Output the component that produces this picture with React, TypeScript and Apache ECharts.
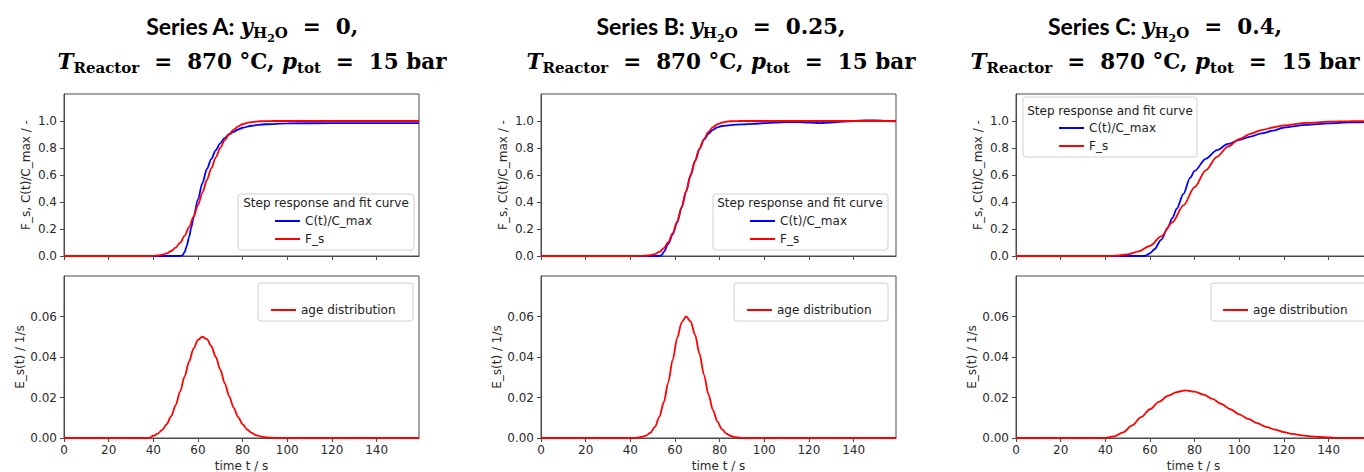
import React, { useEffect, useRef } from "react";
import * as echarts from "echarts";

// ---------- data ----------
const xTicks = [0, 20, 40, 60, 80, 100, 120, 140];
const yTicksTop = [0, 0.2, 0.4, 0.6, 0.8, 1.0];
const yTicksBottom = [0, 0.02, 0.04, 0.06];

// Series A
const tFitA = [0, 38, 40, 42, 44, 46, 48, 50, 52, 54, 56, 58, 60, 62, 64, 66, 68, 70, 72, 74, 76, 78, 80, 82, 84, 86, 88, 90, 94, 100, 159];
const fitA = [0, 0, 0.001, 0.004, 0.01, 0.02, 0.037, 0.062, 0.099, 0.149, 0.213, 0.29, 0.377, 0.47, 0.563, 0.651, 0.731, 0.801, 0.858, 0.903, 0.936, 0.96, 0.976, 0.986, 0.992, 0.996, 0.998, 0.999, 1.0, 1.0, 1.0];
const tDataA = [0, 52, 53, 54, 55, 56, 57, 58, 60, 62, 64, 66, 68, 70, 72, 74, 76, 78, 80, 84, 90, 100, 120, 159];
const dataA = [0, 0, 0.004, 0.028, 0.075, 0.14, 0.21, 0.285, 0.42, 0.54, 0.645, 0.72, 0.785, 0.835, 0.875, 0.902, 0.92, 0.937, 0.95, 0.965, 0.976, 0.982, 0.985, 0.985];
const tAgeA = [0, 38, 40, 42, 44, 46, 48, 50, 52, 54, 56, 58, 60, 62, 64, 66, 68, 70, 72, 74, 76, 78, 80, 82, 84, 86, 88, 90, 92, 94, 96, 159];
const ageA = [0, 0, 0.0011, 0.0022, 0.004, 0.0068, 0.0108, 0.0162, 0.0229, 0.0303, 0.0377, 0.0441, 0.0485, 0.05, 0.0488, 0.0453, 0.04, 0.0337, 0.027, 0.0206, 0.0149, 0.0103, 0.0068, 0.0042, 0.0025, 0.0014, 0.0008, 0.0004, 0.0002, 0.0001, 0, 0];

// Series B
const tFitB = [0, 41, 43, 45, 47, 49, 51, 53, 55, 57, 59, 61, 63, 65, 67, 69, 71, 73, 75, 77, 79, 81, 83, 85, 87, 89, 95, 159];
const fitB = [0, 0, 0.0002, 0.001, 0.003, 0.006, 0.014, 0.03, 0.058, 0.103, 0.169, 0.256, 0.362, 0.478, 0.595, 0.702, 0.794, 0.866, 0.919, 0.954, 0.976, 0.988, 0.995, 0.998, 0.999, 1.0, 1.0, 1.0];
const tDataB = [0, 53, 54, 55, 57, 59, 61, 63, 65, 67, 69, 71, 73, 75, 77, 79, 81, 85, 90, 95, 100, 105, 110, 115, 120, 125, 130, 135, 140, 145, 150, 155, 159];
const dataB = [0, 0, 0.006, 0.03, 0.09, 0.16, 0.25, 0.36, 0.48, 0.6, 0.705, 0.795, 0.862, 0.905, 0.935, 0.953, 0.963, 0.97, 0.975, 0.979, 0.984, 0.988, 0.991, 0.992, 0.989, 0.985, 0.989, 0.996, 1.0, 1.004, 1.004, 1.0, 0.998];
const tAgeB = [0, 41, 43, 45, 47, 49, 51, 53, 55, 57, 59, 61, 63, 65, 67, 69, 71, 73, 75, 77, 79, 81, 83, 85, 87, 89, 91, 159];
const ageB = [0, 0, 0.0002, 0.0005, 0.0012, 0.0026, 0.0055, 0.0104, 0.0177, 0.0275, 0.0387, 0.0494, 0.0571, 0.06, 0.0576, 0.051, 0.0416, 0.0312, 0.0216, 0.0138, 0.0081, 0.0044, 0.0022, 0.001, 0.0004, 0.0002, 0, 0];

// Series C
const tFitC = [0, 40, 45, 50, 55, 60, 65, 70, 75, 80, 85, 90, 95, 100, 105, 110, 115, 120, 130, 140, 150, 159];
const fitC = [0, 0, 0.003, 0.012, 0.035, 0.075, 0.145, 0.25, 0.375, 0.51, 0.635, 0.735, 0.812, 0.866, 0.905, 0.933, 0.952, 0.967, 0.986, 0.995, 0.999, 1.0];
const tDataC = [0, 57, 58, 60, 62, 65, 68, 70, 72, 75, 78, 80, 85, 90, 95, 100, 105, 110, 115, 120, 130, 140, 150, 159];
const dataC = [0, 0, 0.002, 0.02, 0.05, 0.12, 0.21, 0.28, 0.35, 0.46, 0.58, 0.63, 0.72, 0.785, 0.83, 0.86, 0.885, 0.908, 0.928, 0.952, 0.972, 0.983, 0.99, 0.995];
const tAgeC = [0, 36, 40, 44, 48, 52, 56, 60, 64, 68, 72, 76, 80, 84, 88, 92, 96, 100, 104, 108, 112, 116, 120, 124, 128, 132, 136, 140, 144, 148, 159];
const ageC = [0, 0, 0.0001, 0.0008, 0.0028, 0.0062, 0.0103, 0.0142, 0.0178, 0.0208, 0.0227, 0.0235, 0.0229, 0.0214, 0.0193, 0.0168, 0.0142, 0.0117, 0.0094, 0.0073, 0.0055, 0.0041, 0.0029, 0.002, 0.0013, 0.0008, 0.0005, 0.0003, 0.0001, 0, 0];

const seriesLetters = ["A", "B", "C"];
const waterFractions = ["0", "0.25", "0.4"];
const stepNames = ["C(t)/C_max", "F_s"];
const ageName = "age distribution";
const legendTitle = "Step response and fit curve";
const yNameTop = "F_s, C(t)/C_max / -";
const yNameBottom = "E_s(t) / 1/s";
const xName = "time t / s";

const pairs = (t: number[], v: number[]) => t.map((x, i) => [x, v[i]]);

const panelData = [
  { tFit: tFitA, fit: fitA, tData: tDataA, data: dataA, tAge: tAgeA, age: ageA },
  { tFit: tFitB, fit: fitB, tData: tDataB, data: dataB, tAge: tAgeB, age: ageB },
  { tFit: tFitC, fit: fitC, tData: tDataC, data: dataC, tAge: tAgeC, age: ageC },
];

// ---------- layout ----------
const LEFTS = [64, 541, 1016];
const PW = 355;
const TOP_T = 94;
const TOP_B = 276;
const PH = 162;
const TITLE_X = [252, 721, 1165];
const LEG_TOP = [
  { box: [238, 194, 176, 56], title: [326, 203], items: [275, 214] },
  { box: [713, 194, 175, 56], title: [800, 203], items: [750, 214] },
  { box: [1023, 97, 174, 60], title: [1110, 111], items: [1059, 121] },
];
const LEG_BOT = [
  { box: [258, 283, 155, 38], items: [271, 303] },
  { box: [734, 283, 154, 38], items: [747, 303] },
  { box: [1211, 283, 160, 38], items: [1223, 303] },
];

const AXIS_COLOR = "#4a4a4a";
const LABEL_COLOR = "#2a2a2a";
const FONT = "DejaVu Sans";
const MATH = "DejaVu Serif";

function buildOption() {
  const grid: any[] = [];
  const xAxis: any[] = [];
  const yAxis: any[] = [];
  const series: any[] = [];
  const legend: any[] = [];
  const graphic: any[] = [];

  const mathRich = {
    s: { fontFamily: "Lato", fontWeight: "bold", fontSize: 23, color: "#111" },
    mi: { fontFamily: MATH, fontStyle: "italic", fontWeight: "bold", fontSize: 21.5, color: "#111" },
    m: { fontFamily: MATH, fontWeight: "bold", fontSize: 21.5, color: "#111" },
    sub: { fontFamily: MATH, fontWeight: "bold", fontSize: 15, color: "#111", padding: [14, 0, 0, 0] },
    subsub: { fontFamily: MATH, fontWeight: "bold", fontSize: 11, color: "#111", padding: [24, 0, 0, 0] },
  };

  for (let p = 0; p < 3; p++) {
    const d = panelData[p];
    const gTop = p * 2;
    const gBot = p * 2 + 1;
    [TOP_T, TOP_B].forEach((top) => {
      grid.push({
        left: LEFTS[p],
        top,
        width: PW,
        height: PH,
        outerBoundsMode: "none",
        containLabel: false,
        show: true,
        borderColor: AXIS_COLOR,
        borderWidth: 1,
        backgroundColor: "#fff",
      });
    });
    [gTop, gBot].forEach((gi) => {
      const isBottom = gi === gBot;
      xAxis.push({
        type: "value",
        gridIndex: gi,
        min: 0,
        max: 159,
        axisLine: { show: true, onZero: false, lineStyle: { color: AXIS_COLOR, width: 1 } },
        axisTick: { show: true, inside: false, length: 4, customValues: xTicks, lineStyle: { color: AXIS_COLOR } },
        axisLabel: {
          show: isBottom,
          customValues: xTicks,
          margin: 6,
          fontSize: 12,
          fontFamily: FONT,
          color: LABEL_COLOR,
          formatter: (v: number) => String(v),
        },
        splitLine: { show: false },
        name: isBottom ? xName : "",
        nameLocation: "middle",
        nameGap: 22,
        nameTextStyle: { fontSize: 12, fontFamily: FONT, color: LABEL_COLOR },
      });
      yAxis.push({
        type: "value",
        gridIndex: gi,
        min: 0,
        max: isBottom ? 0.08 : 1.2,
        axisLine: { show: true, onZero: false, lineStyle: { color: AXIS_COLOR, width: 1 } },
        axisTick: {
          show: true,
          inside: false,
          length: 4,
          customValues: isBottom ? yTicksBottom : yTicksTop,
          lineStyle: { color: AXIS_COLOR },
        },
        axisLabel: {
          customValues: isBottom ? yTicksBottom : yTicksTop,
          margin: 7,
          fontSize: 12,
          fontFamily: FONT,
          color: LABEL_COLOR,
          formatter: (v: number) => (isBottom ? v.toFixed(2) : v.toFixed(1)),
        },
        splitLine: { show: false },
        name: isBottom ? yNameBottom : yNameTop,
        nameLocation: "middle",
        nameRotate: 90,
        nameGap: 32,
        nameTextStyle: { fontSize: 12, fontFamily: FONT, color: LABEL_COLOR },
      });
    });

    const lineBase = { type: "line", showSymbol: false, symbol: "none", smooth: 0.3, smoothMonotone: "x", z: 3 };
    series.push({
      ...lineBase,
      name: stepNames[0],
      xAxisIndex: gTop,
      yAxisIndex: gTop,
      data: pairs(d.tData, d.data),
      color: "#0000ff",
      lineStyle: { color: "#0000ff", width: 1.8 },
    });
    series.push({
      ...lineBase,
      name: stepNames[1],
      xAxisIndex: gTop,
      yAxisIndex: gTop,
      data: pairs(d.tFit, d.fit),
      color: "#ff0000",
      lineStyle: { color: "#ff0000", width: 1.8 },
    });
    series.push({
      ...lineBase,
      name: ageName,
      xAxisIndex: gBot,
      yAxisIndex: gBot,
      data: pairs(d.tAge, d.age),
      color: "#ff0000",
      lineStyle: { color: "#ff0000", width: 1.8 },
    });

    const legCommon = {
      orient: "vertical",
      itemWidth: 25,
      itemHeight: 2,
      icon: "rect",
      itemGap: 4,
      padding: 0,
      selectedMode: false,
      textStyle: { fontSize: 12, fontFamily: FONT, color: "#222", lineHeight: 14 },
      z: 20,
    };
    const lt = LEG_TOP[p];
    legend.push({ ...legCommon, data: stepNames, left: lt.items[0], top: lt.items[1] });
    const lb = LEG_BOT[p];
    legend.push({ ...legCommon, data: [ageName], left: lb.items[0], top: lb.items[1] });

    graphic.push({
      type: "rect",
      shape: { x: lt.box[0], y: lt.box[1], width: lt.box[2], height: lt.box[3], r: 3 },
      style: { fill: "rgba(255,255,255,0.8)", stroke: "#d0d0d0", lineWidth: 1 },
      z: 10,
    });
    graphic.push({
      type: "text",
      x: lt.title[0],
      y: lt.title[1],
      style: { text: legendTitle, fontSize: 12, fontFamily: FONT, fill: "#222", align: "center", verticalAlign: "middle" },
      z: 11,
    });
    graphic.push({
      type: "rect",
      shape: { x: lb.box[0], y: lb.box[1], width: lb.box[2], height: lb.box[3], r: 3 },
      style: { fill: "rgba(255,255,255,0.8)", stroke: "#d0d0d0", lineWidth: 1 },
      z: 10,
    });

    // two-line title
    graphic.push({
      type: "text",
      x: TITLE_X[p],
      y: 26,
      style: {
        text: `{s|Series ${seriesLetters[p]}: }{mi|y}{sub|H}{subsub|2}{sub|O}{m|  =  ${waterFractions[p]},}`,
        rich: mathRich,
        align: "center",
        verticalAlign: "middle",
      },
      z: 30,
    });
    graphic.push({
      type: "text",
      x: TITLE_X[p],
      y: 61,
      style: {
        text: "{mi|T}{sub|Reactor}{m|  =  870 °C, }{mi|p}{sub|tot}{m|  =  15 bar}",
        rich: mathRich,
        align: "center",
        verticalAlign: "middle",
      },
      z: 30,
    });
  }

  return {
    animation: false,
    backgroundColor: "#fff",
    grid,
    xAxis,
    yAxis,
    series,
    legend,
    graphic,
  };
}

export default function App() {
  const ref = useRef<HTMLDivElement>(null);
  useEffect(() => {
    if (!ref.current) return;
    const chart = echarts.init(ref.current, undefined, { renderer: "svg" });
    chart.setOption(buildOption() as any);
    return () => chart.dispose();
  }, []);
  return (
    <div
      ref={ref}
      style={{ position: "absolute", left: 0, top: 0, width: 1364, height: 472, background: "#fff" }}
    />
  );
}
